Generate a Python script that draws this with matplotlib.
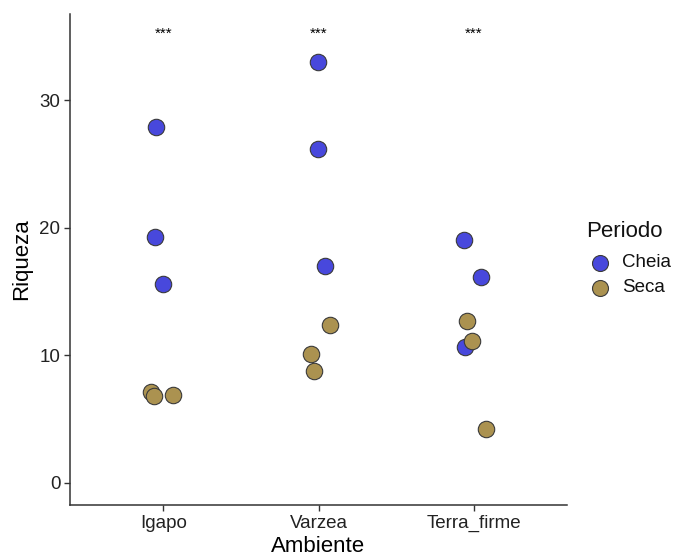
import matplotlib
matplotlib.use("Agg")
import matplotlib.pyplot as plt
from matplotlib.lines import Line2D

plt.rcParams['font.family'] = ['Liberation Sans', 'DejaVu Sans']

categories = ["Igapo", "Varzea", "Terra_firme"]
periods = ["Cheia", "Seca"]
colors = {"Cheia": "#4848dc", "Seca": "#ab9250"}

# Richness values per environment and period
cheia_igapo = [27.9, 19.3, 15.6]
cheia_varzea = [33.0, 26.2, 17.0]
cheia_terra = [19.0, 16.1, 10.6]
seca_igapo = [7.1, 6.8, 6.9]
seca_varzea = [10.1, 8.75, 12.4]
seca_terra = [12.7, 11.1, 4.2]

# horizontal jitter (category units)
jit_cheia_igapo = [-0.045, -0.05, 0.0]
jit_cheia_varzea = [-0.005, -0.005, 0.045]
jit_cheia_terra = [-0.065, 0.045, -0.058]
jit_seca_igapo = [-0.077, -0.058, 0.065]
jit_seca_varzea = [-0.05, -0.026, 0.077]
jit_seca_terra = [-0.045, -0.013, 0.077]

signif = ["***", "***", "***"]
sig_y = 35

data = {
    "Cheia": [(cheia_igapo, jit_cheia_igapo), (cheia_varzea, jit_cheia_varzea), (cheia_terra, jit_cheia_terra)],
    "Seca": [(seca_igapo, jit_seca_igapo), (seca_varzea, jit_seca_varzea), (seca_terra, jit_seca_terra)],
}

W, H = 675, 556
fig = plt.figure(figsize=(W / 100, H / 100), dpi=100)
ax = fig.add_axes([70/W, 1-505/H, (567-70)/W, (505-14)/H])

for p in periods:
    for i, (vals, jit) in enumerate(data[p]):
        xs = [i + 1 + j for j in jit]
        ax.scatter(xs, vals, s=140, c=colors[p], edgecolors="#3a3a3a", linewidths=0.8, zorder=3)

for i, s in enumerate(signif):
    ax.annotate(s, xy=(i + 1, sig_y), xytext=(0, 1.5), textcoords="offset points",
                ha="center", va="center", fontsize=11, color="black")

ax.set_xlim(0.4, 3.6)
ax.set_ylim(-1.75, 36.75)
ax.set_xticks([1, 2, 3])
ax.set_xticklabels(categories)
ax.set_yticks([0, 10, 20, 30])
for s in ["top", "right"]:
    ax.spines[s].set_visible(False)
for s in ["left", "bottom"]:
    ax.spines[s].set_color("#333333")
    ax.spines[s].set_linewidth(1.1)
ax.tick_params(axis="both", colors="#333333", labelcolor="#222222", labelsize=13.5, length=4, width=1.0, pad=3)
ax.set_xlabel("Ambiente", fontsize=16, labelpad=3)
ax.set_ylabel("Riqueza", fontsize=16, labelpad=5)

# legend drawn in figure coordinates
fig.text(586/W, 1-231/H, "Periodo", fontsize=16, ha="left", va="center", color="#111111")
for k, p in enumerate(periods):
    yy = 1 - (263 + 25 * k) / H
    fig.add_artist(Line2D([600/W], [yy], transform=fig.transFigure, marker="o", linestyle="",
                          markersize=11.5, markerfacecolor=colors[p], markeredgecolor="#3a3a3a",
                          markeredgewidth=0.8))
    fig.text(622/W, yy, p, fontsize=13.5, ha="left", va="center", color="#111111")

fig.savefig("out.png", dpi=100)
